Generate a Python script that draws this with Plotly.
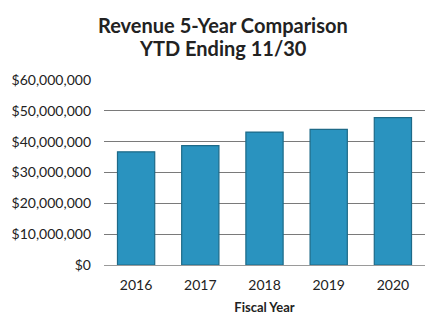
import plotly.graph_objects as go

years = ["2016", "2017", "2018", "2019", "2020"]
revenue = [36700000, 38700000, 43100000, 44000000, 47800000]
tick_vals = [0, 10000000, 20000000, 30000000, 40000000, 50000000, 60000000]
tick_text = ["$0", "$10,000,000", "$20,000,000", "$30,000,000", "$40,000,000", "$50,000,000", "$60,000,000"]
title_lines = ["Revenue 5-Year Comparison", "YTD Ending 11/30"]

fig = go.Figure(go.Bar(
    x=years, y=revenue, width=0.58,
    marker=dict(color="#2a93bf", line=dict(color="#1d6a88", width=1.2)),
))

for i, line in enumerate(title_lines):
    fig.add_annotation(
        text="<b>%s</b>" % line, xref="paper", yref="paper",
        x=(219.5 - 98) / 327, xanchor="center", y=1 + (55 - 23 * i) / 185, yanchor="middle",
        showarrow=False, font=dict(size=20, color="#222"),
    )

fig.update_layout(
    width=439, height=332,
    margin=dict(l=98, r=14, t=80, b=67),
    paper_bgcolor="white", plot_bgcolor="white",
    font=dict(family="Lato, Open Sans, sans-serif", color="#222"),
    showlegend=False,
)
fig.update_xaxes(
    title=dict(text="<b>Fiscal Year</b>", font=dict(size=13), standoff=10),
    tickfont=dict(size=14), showline=False, ticks="", ticklabelstandoff=10,
)
fig.update_yaxes(
    range=[0, 60000000], tickvals=tick_vals, ticktext=tick_text,
    tickfont=dict(size=14), showgrid=True, gridcolor="#7a7a7a", gridwidth=1.2,
    zeroline=True, zerolinecolor="#9a9a9a", zerolinewidth=1.2, ticks="",
    ticklabelstandoff=12,
)
fig.write_html("out.html")
